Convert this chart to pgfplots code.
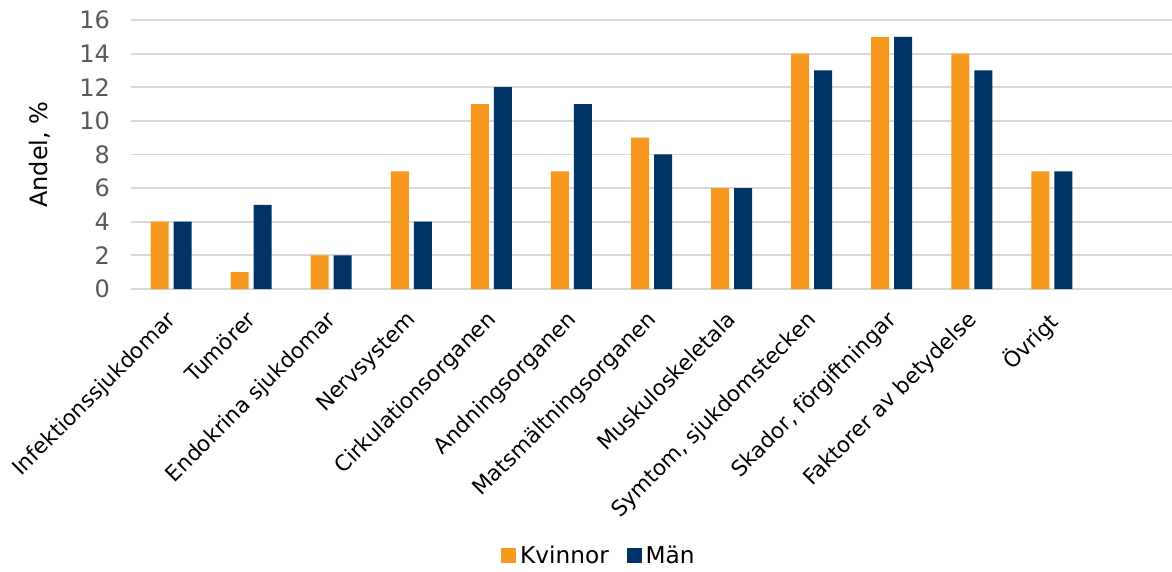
\documentclass[border=0pt]{standalone}
\usepackage{fontspec}
\setmainfont{DejaVu Sans}
\usepackage{pgfplots}
\pgfplotsset{compat=1.18}
\definecolor{kvinnor}{HTML}{F7991F}
\definecolor{man}{HTML}{003366}
\definecolor{gridgray}{HTML}{D9D9D9}
\definecolor{ticktext}{HTML}{595959}
\begin{document}
\begin{tikzpicture}
\begin{axis}[
  at={(0,0)}, anchor=south west,
  scale only axis,
  width=520.5pt, height=134.5pt,
  ybar=2.5pt, bar width=9pt,
  xmin=-0.5, xmax=12.5,
  ymin=0, ymax=16,
  ytick={0,2,...,16},
  xtick={0,...,11},
  xticklabels={Infektionssjukdomar,Tumörer,Endokrina sjukdomar,Nervsystem,Cirkulationsorganen,Andningsorganen,Matsmältningsorganen,Muskuloskeletala,{Symtom, sjukdomstecken},{Skador, förgiftningar},Faktorer av betydelse,Övrigt},
  xticklabel style={rotate=45, anchor=north east, font=\fontsize{10.8}{12}\selectfont, text=black, xshift=-9.2pt, yshift=-5pt, inner sep=0pt},
  yticklabel style={font=\fontsize{12}{14}\selectfont, text=ticktext, xshift=-7pt},
  /pgf/number format/assume math mode=true,
  major tick length=0pt,
  axis line style={draw=none},
  ymajorgrids,
  grid style={gridgray, line width=0.9pt},
  ylabel={Andel, \%},
  ylabel style={at={(axis description cs:-0.0875,0.5)}, anchor=center, font=\fontsize{12}{14}\selectfont},
  legend columns=2,
  legend style={at={(axis description cs:0.4505,-0.995)}, anchor=center, draw=none, font=\fontsize{11.6}{13}\selectfont, /tikz/every even column/.append style={column sep=7pt}},
  legend image code/.code={\fill[#1] (0cm,-0.11cm) rectangle (0.26cm,0.15cm);},
  clip=false,
]
\addplot[fill=kvinnor, draw=none] coordinates {(0,4) (1,1) (2,2) (3,7) (4,11) (5,7) (6,9) (7,6) (8,14) (9,15) (10,14) (11,7)};
\addplot[fill=man, draw=none] coordinates {(0,4) (1,5) (2,2) (3,4) (4,12) (5,11) (6,8) (7,6) (8,13) (9,15) (10,13) (11,7)};
\legend{Kvinnor,Män}
\end{axis}
\pgfresetboundingbox
\path[use as bounding box] (-65.5pt,-141.5pt) rectangle (520.5pt,144.5pt);
\end{tikzpicture}
\end{document}
